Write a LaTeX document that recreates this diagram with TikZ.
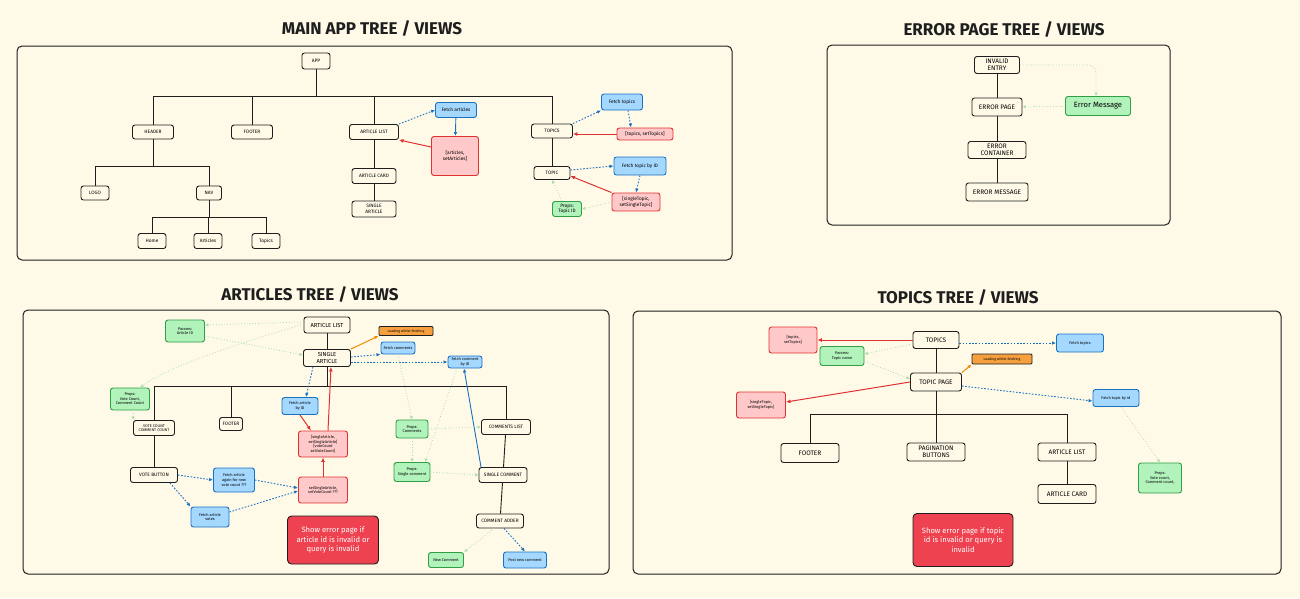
\documentclass[tikz,border=0pt]{standalone}
\usepackage{fontspec}
\setmainfont{Fira Sans}
\usepackage{tikz}
\usepackage{xcolor}
\usetikzlibrary{arrows.meta,positioning}
\definecolor{paper}{HTML}{FFFAE8}
\definecolor{ink}{HTML}{1E1E1E}
\definecolor{fetchfill}{HTML}{A5D8FF}
\definecolor{fetchline}{HTML}{1971C2}
\definecolor{statefill}{HTML}{FFC9C9}
\definecolor{stateline}{HTML}{E03131}
\definecolor{propsfill}{HTML}{B2F2BB}
\definecolor{propsline}{HTML}{2F9E44}
\definecolor{propsarrow}{HTML}{A9DDA8}
\definecolor{loadfill}{HTML}{F59F3F}
\definecolor{loadline}{HTML}{F08C00}
\definecolor{errorfill}{HTML}{EE4250}

\begin{document}
\begin{tikzpicture}[
  x=1pt, y=-1pt,
  txtXS/.style={font=\fontsize{3.9}{4.6}\selectfont},
  txtS/.style={font=\fontsize{4.8}{5.6}\selectfont},
  txtM/.style={font=\fontsize{5.8}{6.8}\selectfont},
  txtL/.style={font=\fontsize{6.5}{7.4}\selectfont},
  txtXL/.style={font=\fontsize{7.6}{9.4}\selectfont},
  treebox/.style={draw=ink, fill=paper, rounded corners=2.5pt, line width=0.9pt, align=center, inner sep=1pt, txtS},
  fetchbox/.style={treebox, draw=fetchline, fill=fetchfill},
  statebox/.style={treebox, draw=stateline, fill=statefill},
  propsbox/.style={treebox, draw=propsline, fill=propsfill},
  loadbox/.style={treebox, rounded corners=1pt, fill=loadfill, font=\fontsize{3.5}{4}\selectfont},
  errorbox/.style={treebox, rounded corners=4pt, fill=errorfill, text=white, txtXL},
  frame/.style={draw=ink, line width=1pt, rounded corners=5pt, inner sep=0pt, outer sep=0pt},
  heading/.style={font=\fontsize{17}{20}\selectfont\bfseries, text=ink},
  tree/.style={draw=ink, line width=0.9pt},
  fetch/.style={-{Latex[length=4pt,width=3.5pt]}, fetchline, line width=0.9pt, dash pattern=on 1.6pt off 1.6pt},
  state/.style={-{Latex[length=4.5pt,width=4pt]}, stateline, line width=1pt},
  props/.style={-{Latex[open,length=3.5pt,width=3.5pt]}, propsarrow, line width=0.8pt, dotted},
  load/.style={-{Latex[length=4pt,width=3.5pt]}, loadline, line width=1pt}
]
\fill[paper] (0,0) rectangle (1300,598);
\useasboundingbox (0,0) rectangle (1300,598);

\node[heading] (maintitle) at (372,29) {MAIN APP TREE / VIEWS};
\node[heading] (errortitle) at (1004,30) {ERROR PAGE TREE / VIEWS};
\node[heading] (articlestitle) at (310,295) {ARTICLES TREE / VIEWS};
\node[heading] (topicstitle) at (958,298) {TOPICS TREE / VIEWS};

\node[frame, minimum width=715, minimum height=214] (mainframe) at (374.5,153) {};
\node[frame, minimum width=343, minimum height=180] (errorframe) at (998.5,135) {};
\node[frame, minimum width=586, minimum height=264] (articlesframe) at (316,442) {};
\node[frame, minimum width=648, minimum height=263] (topicsframe) at (957,442.5) {};

\node[treebox, minimum width=28, minimum height=16] (app) at (316,61) {APP};
\node[treebox, minimum width=41, minimum height=14] (header) at (153,132) {HEADER};
\node[treebox, minimum width=41, minimum height=14] (footer) at (252,132) {FOOTER};
\node[treebox, minimum width=49, minimum height=15] (artlist) at (374,132) {ARTICLE LIST};
\node[treebox, minimum width=41, minimum height=14] (topics) at (552,131) {TOPICS};
\node[treebox, minimum width=28, minimum height=14] (logo) at (95,193) {LOGO};
\node[treebox, minimum width=25, minimum height=14] (nav) at (209,193) {NAV};
\node[treebox, minimum width=28, minimum height=15] (home) at (152,241) {Home};
\node[treebox, minimum width=28, minimum height=15] (articles) at (208,241) {Articles};
\node[treebox, minimum width=28, minimum height=15] (topicslink) at (266,241) {Topics};
\node[treebox, minimum width=44, minimum height=15] (artcard) at (374,176) {ARTICLE CARD};
\node[treebox, minimum width=44, minimum height=16] (singleart) at (374,209) {SINGLE\\ARTICLE};
\node[fetchbox, minimum width=41, minimum height=15] (fetcharts) at (456,110) {Fetch articles};
\node[statebox, minimum width=47, minimum height=39] (artstate) at (455,156) {[articles,\\setArticles]};
\node[fetchbox, minimum width=41, minimum height=16] (fetchtopics) at (622,102) {Fetch topics};
\node[statebox, minimum width=56, minimum height=12] (topicsstate) at (645,134) {[topics, setTopics]};
\node[treebox, minimum width=36, minimum height=13] (topic) at (552,173) {TOPIC};
\node[fetchbox, minimum width=52, minimum height=18] (fetchtopic) at (640,166) {Fetch topic by ID};
\node[statebox, minimum width=48, minimum height=18] (topicstate) at (636,202) {[singleTopic,\\setSingleTopic]};
\node[propsbox, minimum width=29, minimum height=15] (topicprops) at (567,209) {Props:\\Topic ID};

\coordinate (appbar) at (316,96);
\draw[tree] (app) -- (appbar);
\foreach \n in {header,footer,artlist,topics}
  \draw[tree] (appbar) -| (\n.north);
\coordinate (headerbar) at (153,166);
\draw[tree] (header) -- (headerbar);
\foreach \n in {logo,nav}
  \draw[tree] (headerbar) -| (\n.north);
\coordinate (navbar) at (209,217);
\draw[tree] (nav) -- (navbar);
\foreach \n in {home,articles,topicslink}
  \draw[tree] (navbar) -| (\n.north);
\draw[tree] (artlist) -- (artcard);
\draw[tree] (artcard) -- (singleart);
\draw[tree] (topics) -- (topic);

\draw[fetch] (artlist.north east) -- (fetcharts.west);
\draw[fetch, solid] (fetcharts) -- (artstate);
\draw[state] ([yshift=9pt]artstate.west) -- (artlist.south east);
\draw[fetch] (topics.north east) -- (fetchtopics.south west);
\draw[fetch] ([xshift=6pt]fetchtopics.south) -- ([xshift=-14pt]topicsstate.north);
\draw[state] (topicsstate.west) -- (topics.east |- topicsstate.west);
\draw[fetch] ([yshift=3pt]topic.east) -- (fetchtopic.west);
\draw[fetch] (fetchtopic.south) -- (topicstate.north);
\draw[state] (topicstate.north west) -- ([yshift=-3pt]topic.east);
\draw[props] (topicstate.west) -- (topicprops.east);
\draw[props] ([xshift=-5pt]topicprops.north) -- (topic.south);

\node[treebox, txtL, minimum width=45, minimum height=17] (invalid) at (997,65) {INVALID\\ENTRY};
\node[treebox, txtL, minimum width=50, minimum height=18] (errpage) at (997,107) {ERROR PAGE};
\node[treebox, txtL, minimum width=58, minimum height=17] (errcont) at (997,150) {ERROR\\CONTAINER};
\node[treebox, txtL, minimum width=62, minimum height=18] (errmsg) at (997,192) {ERROR MESSAGE};
\node[propsbox, txtXL, minimum width=65, minimum height=19] (errmsgbox) at (1098,106) {Error Message};

\draw[tree] (invalid) -- (errpage);
\draw[tree] (errpage) -- (errcont);
\draw[tree] (errcont) -- (errmsg);
\draw[props, rounded corners=8pt] (invalid.east) -| ([xshift=-2pt]errmsgbox.north);
\draw[props] (errmsgbox) -- (errpage);

\node[treebox, txtM, minimum width=46, minimum height=16] (alist) at (327,325) {ARTICLE LIST};
\node[treebox, txtM, minimum width=47, minimum height=17] (asingle) at (327,358) {SINGLE\\ARTICLE};
\node[propsbox, txtXS, minimum width=39, minimum height=22] (aparams) at (185,331) {Params:\\Article ID};
\node[propsbox, txtXS, minimum width=39, minimum height=22] (avoteprops) at (130,399) {Props:\\Vote Count,\\Comment Count};
\node[treebox, txtXS, minimum width=41, minimum height=15] (avotecount) at (154,428) {VOTE COUNT\\COMMENT COUNT};
\node[treebox, minimum width=23, minimum height=13] (afooter) at (231,424) {FOOTER};
\node[fetchbox, txtXS, minimum width=36, minimum height=17] (afetchart) at (300,406) {Fetch article\\by ID};
\node[statebox, txtXS, minimum width=49, minimum height=26] (astate) at (323,444) {[singleArticle,\\setSingleArticle]\\{[}voteCount\\setVoteCount]};
\node[statebox, txtXS, minimum width=49, minimum height=26] (asetstate) at (323,490) {setSingleArticle,\\setVoteCount ???};
\node[treebox, minimum width=47, minimum height=15] (avotebtn) at (154,475) {VOTE BUTTON};
\node[fetchbox, txtXS, minimum width=41, minimum height=24] (afetchagain) at (234,480) {Fetch article\\again for new\\vote count ???};
\node[fetchbox, txtXS, minimum width=38, minimum height=20] (afetchvotes) at (210,517) {Fetch article\\votes};
\node[errorbox, minimum width=91, minimum height=48] (aerror) at (333,540) {Show error page if\\article id is invalid or\\query is invalid};
\node[loadbox, minimum width=54, minimum height=9] (aload) at (406,331) {Loading whilst fetching};
\node[fetchbox, txtXS, minimum width=34, minimum height=12] (afetchcomments) at (398,348) {Fetch comments};
\node[fetchbox, txtXS, minimum width=34, minimum height=12] (afetchcomment) at (465,362) {Fetch comment\\by ID};
\node[propsbox, txtXS, minimum width=32, minimum height=18] (acommentsprops) at (412,429) {Props:\\Comments};
\node[propsbox, txtXS, minimum width=36, minimum height=19] (acommentprops) at (412,472) {Props:\\Single comment};
\node[treebox, minimum width=49, minimum height=15] (acomments) at (506,427) {COMMENTS LIST};
\node[treebox, minimum width=48, minimum height=15] (acomment) at (503,475) {SINGLE COMMENT};
\node[treebox, minimum width=47, minimum height=14] (aadder) at (500,521) {COMMENT ADDER};
\node[propsbox, txtXS, minimum width=35, minimum height=15] (anew) at (446,560) {New Comment};
\node[fetchbox, txtXS, minimum width=43, minimum height=16] (apost) at (525,560) {Post new comment};

\coordinate (abar) at (327,386);
\draw[tree] (alist) -- (asingle);
\draw[tree] (asingle) -- (abar);
\foreach \n in {avotecount,afooter,acomments}
  \draw[tree] (abar) -| (\n.north);
\draw[tree] (avotecount) -- (avotebtn);
\draw[tree] (acomments) -- (acomment);
\draw[tree] (acomment) -- (aadder);

\draw[load] (asingle.north east) -- (aload.south west);
\draw[fetch] ([yshift=1pt]asingle.east) -- (afetchcomments.south west);
\draw[fetch] ([yshift=-4pt]asingle.east) -- (afetchcomment.west);
\draw[fetch] ([xshift=-14pt]asingle.south) -- ([xshift=6pt]afetchart.north);
\draw[state] (afetchart.south) -- ([xshift=-12pt]astate.north);
\draw[state] ([xshift=5pt]astate.north) -- ([xshift=4pt]asingle.south);
\draw[state] (asetstate) -- (astate);
\draw[fetch] (avotebtn.east) -- (afetchagain.west);
\draw[fetch] ([xshift=16pt]avotebtn.south) -- (afetchvotes.north west);
\draw[fetch] (afetchagain.east) -- ([yshift=2pt]asetstate.west);
\draw[fetch] ([yshift=5pt]afetchvotes.east) -- ([yshift=-1pt]asetstate.west);
\draw[fetch, solid] ([xshift=-22pt]acomment.north) -- ([xshift=-1pt]afetchcomment.south);
\draw[fetch] ([xshift=4pt]aadder.south) -- (apost.north);
\draw[props] ([xshift=-6pt]aadder.south) -- ([xshift=18pt]anew.north);
\draw[props] ([yshift=3pt]alist.west) -- ([yshift=6pt]aparams.east);
\draw[props] ([yshift=-5pt]aparams.east) -- ([yshift=3pt]asingle.west);
\draw[props] ([yshift=1pt]alist.west) .. controls (250,340) and (170,365) .. ([xshift=10pt]avoteprops.north);
\draw[props] ([xshift=3pt]avoteprops.south) -- ([xshift=-21pt]avotecount.north);
\draw[props] (afetchcomments.south) -- (acommentsprops.north);
\draw[props] ([xshift=-8pt]afetchcomment.south) -- ([xshift=13pt]acommentprops.north);
\draw[props] (acommentsprops.east) -- (acomments.west);
\draw[props] (acommentsprops.south) -- (acommentprops.north);
\draw[props] (acommentprops.east) -- (acomment.west);

\node[treebox, txtL, minimum width=46, minimum height=17] (ttopics) at (936,340) {TOPICS};
\node[treebox, txtL, minimum width=51, minimum height=18] (tpage) at (936,382) {TOPIC PAGE};
\node[statebox, txtXS, minimum width=48, minimum height=26] (tstate) at (793,340) {[topics,\\setTopics]};
\node[propsbox, txtXS, minimum width=44, minimum height=19] (tparams) at (842,356) {Params:\\Topic name};
\node[statebox, txtXS, minimum width=49, minimum height=26] (tsinglestate) at (761,405) {[singleTopic,\\setSingleTopic]};
\node[fetchbox, txtXS, minimum width=47, minimum height=18] (tfetchtopics) at (1080,343) {Fetch topics};
\node[loadbox, minimum width=60, minimum height=10] (tload) at (1002,359) {Loading whilst fetching};
\node[fetchbox, txtXS, minimum width=46, minimum height=17] (tfetchtopic) at (1116,398) {Fetch topic by id};
\node[treebox, txtL, minimum width=58, minimum height=19] (tfooter) at (810,453) {FOOTER};
\node[treebox, txtL, minimum width=58, minimum height=18] (tpaging) at (936,452) {PAGINATION\\BUTTONS};
\node[treebox, txtL, minimum width=58, minimum height=18] (tlist) at (1067,452) {ARTICLE LIST};
\node[treebox, txtL, minimum width=58, minimum height=19] (tcard) at (1067,494) {ARTICLE CARD};
\node[propsbox, txtXS, minimum width=43, minimum height=30] (tprops) at (1160,478) {Props:\\Vote count,\\Comment count,};
\node[errorbox, minimum width=100, minimum height=53] (terror) at (963,540) {Show error page if topic\\id is invalid or query is\\invalid};

\coordinate (tbar) at (936,414);
\draw[tree] (ttopics) -- (tpage);
\draw[tree] (tpage) -- (tbar);
\foreach \n in {tfooter,tpaging,tlist}
  \draw[tree] (tbar) -| (\n.north);
\draw[tree] (tlist) -- (tcard);

\draw[state] (ttopics.west) -- (tstate.east);
\draw[state] (tpage.west) -- ([yshift=3pt]tsinglestate.east);
\draw[props] ([yshift=-4pt]ttopics.west) -- ([yshift=2pt]tparams.east);
\draw[props] ([yshift=-5pt]tparams.east) -- ([yshift=3pt]tpage.west);
\draw[fetch] ([yshift=-3pt]ttopics.east) -- (tfetchtopics.west);
\draw[load] (tpage.north east) -- (tload.south west);
\draw[fetch] ([yshift=-4pt]tpage.east) -- ([yshift=-3pt]tfetchtopic.west);
\draw[props] ([xshift=5pt]tfetchtopic.south) -- (tprops.north);
\end{tikzpicture}
\end{document}
